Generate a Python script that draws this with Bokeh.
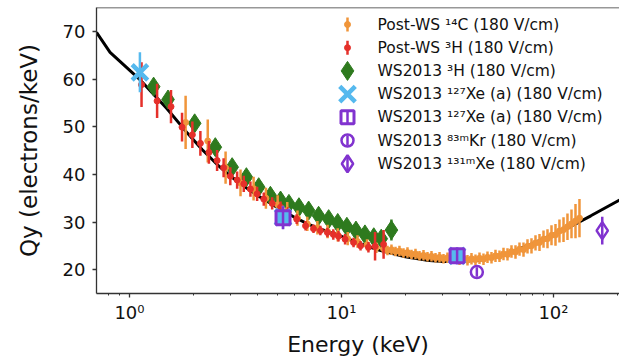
import numpy as np
from bokeh.plotting import figure
from bokeh.models import FixedTicker, Range1d, LinearScale, Span, CustomJSTickFormatter
from bokeh.embed import file_html
from bokeh.resources import INLINE
from bokeh.core.properties import value

# ---------------- data ----------------
# model curve
curve_E = [0.699, 0.81, 1.13, 1.5, 1.88, 2.2, 2.6, 3.0, 3.5, 4.0, 5.0, 6.0, 7.0, 8.0,
           10.0, 12.0, 15.0, 20.0, 25.0, 30.0, 35.0, 45.0, 60.0, 80.0, 100.0, 120.0,
           150.0, 205.0]
curve_Q = [69.8, 65.6, 59.7, 53.8, 48.6, 45.2, 42.0, 39.6, 37.4, 35.6, 33.0, 31.0, 29.5,
           28.5, 27.0, 25.6, 24.1, 22.7, 22.0, 21.7, 21.7, 22.0, 23.3, 25.5, 27.4, 29.0,
           31.3, 34.6]

# Post-WS 14C
c14_E = [1.84, 2.34, 2.84, 3.34, 3.85, 4.40, 5.00, 5.55, 6.20, 6.90, 7.70, 8.60, 9.60,
         10.7, 11.9, 13.2, 14.6,
         15.78, 16.48, 17.21, 17.98, 18.77, 19.61, 20.48, 21.39, 22.34, 23.33, 24.37,
         25.45, 26.58, 27.76, 29.00, 30.28, 31.62, 33.03, 34.49, 36.03, 37.63, 39.30,
         41.04, 42.86, 44.77, 46.75, 48.83, 51.00, 53.26, 55.63, 58.10, 60.68, 63.37,
         66.19, 69.13, 72.20, 75.40, 78.75, 82.25, 85.90, 89.72, 93.70, 97.86, 102.2,
         106.7, 111.5, 116.4, 121.6, 127.0, 132.6]
c14_Q = [50.9, 47.0, 41.4, 38.2, 37.0, 35.0, 33.6, 32.4, 30.8, 29.6, 28.8, 28.0, 27.3,
         26.5, 25.9, 25.2, 24.6,
         24.4, 24.0, 24.2, 23.8, 23.9, 23.5, 23.6, 23.2, 23.3, 22.9, 23.0,
         22.7, 22.8, 22.5, 22.6, 22.3, 22.5, 22.2, 22.4, 22.1, 22.4, 22.0,
         22.3, 22.1, 22.4, 22.2, 22.6, 22.5, 22.9, 22.8, 23.3, 23.2, 23.8,
         23.7, 24.3, 24.2, 24.9, 25.0, 25.6, 25.7, 26.4, 26.5, 27.2, 27.3,
         28.1, 28.4, 29.0, 29.6, 30.2, 30.8]
c14_err = [5.6, 4.5, 3.4, 2.8, 2.5, 2.2, 2.0, 1.8, 1.6, 1.5, 1.4, 1.4, 1.4,
           1.4, 1.3, 1.2, 1.1,
           1.0, 1.0, 1.1, 1.0, 1.1, 1.0, 1.1, 1.0, 1.1, 1.0, 1.1,
           1.0, 1.1, 1.0, 1.1, 1.0, 1.1, 1.0, 1.1, 1.1, 1.2, 1.1,
           1.2, 1.1, 1.2, 1.2, 1.2, 1.2, 1.3, 1.2, 1.3, 1.3, 1.3,
           1.4, 1.4, 1.5, 1.5, 1.6, 1.6, 1.8, 1.8, 2.0, 2.1, 2.3,
           2.4, 2.6, 2.8, 3.0, 3.6, 4.0]

# Post-WS 3H
h3p_E = [1.14, 1.35, 1.57, 1.77, 1.98, 2.16, 2.37, 2.59, 2.78, 2.99, 3.22, 3.46, 3.72,
         4.00, 4.30, 4.71, 5.16, 5.60, 6.15, 6.77, 7.38, 7.95, 8.58, 9.15, 9.68, 10.4,
         11.4, 12.3, 13.4, 14.4, 15.8]
h3p_Q = [58.8, 55.4, 54.2, 49.9, 48.3, 46.5, 44.6, 42.9, 41.4, 39.6, 38.8, 38.0, 36.9,
         35.9, 34.8, 33.9, 33.1, 32.0, 30.6, 29.2, 28.6, 28.2, 27.8, 27.4, 27.0, 26.4,
         25.7, 25.0, 24.7, 24.9, 25.3]
h3p_err = [4.7, 3.6, 3.5, 3.0, 2.8, 2.6, 2.4, 2.2, 2.0, 1.9, 1.8, 1.7, 1.6,
           1.5, 1.4, 1.3, 1.2, 1.1, 1.0, 1.0, 0.9, 1.0, 1.0, 1.1, 1.1, 1.1,
           1.0, 1.0, 1.1, 3.0, 3.0]

# WS2013 3H
h3w_E = [1.30, 1.52, 2.03, 2.54, 3.05, 3.56, 4.07, 4.62, 5.16, 5.65, 6.3, 7.0, 7.8,
         8.7, 9.6, 10.6, 11.7, 12.9, 14.2, 15.4, 17.2]
h3w_Q = [58.4, 55.7, 50.7, 45.7, 41.5, 39.4, 37.3, 35.5, 34.5, 33.8, 33.1, 32.4, 31.3,
         30.6, 29.8, 29.0, 28.2, 27.4, 26.8, 26.5, 28.3]
h3w_err = [0.6, 0.6, 0.6, 0.6, 0.5, 0.5, 0.5, 0.5, 0.5, 0.5, 0.5, 0.5, 0.5,
           0.5, 0.5, 0.5, 0.5, 0.5, 0.6, 0.8, 2.2]

# WS2013 127Xe (a) - crosses and squares
xe_x_E = [1.12, 5.30, 35.1]
xe_x_Q = [61.4, 31.0, 22.9]
xe_x_err = [4.2, 2.4, 1.75]
xe_s_E = [5.30, 35.1]
xe_s_Q = [30.9, 22.9]
xe_s_err = [2.4, 1.75]

# WS2013 83mKr
kr_E = [43.5]
kr_Q = [19.5]
kr_err = [1.0]

# WS2013 131mXe
xe131_E = [169.8]
xe131_Q = [28.2]
xe131_err = [2.9]

LEGEND_LABELS = ["Post-WS ¹⁴C (180 V/cm)", "Post-WS ³H (180 V/cm)",
                 "WS2013 ³H (180 V/cm)", "WS2013 ¹²⁷Xe (a) (180 V/cm)",
                 "WS2013 ¹²⁷Xe (a) (180 V/cm)", "WS2013 ⁸³ᵐKr (180 V/cm)",
                 "WS2013 ¹³¹ᵐXe (180 V/cm)"]

XTICKS = [1, 10, 100]
XTICK_LABELS = ["10⁰", "10¹", "10²"]
XMINOR = [0.8, 0.9, 2, 3, 4, 5, 6, 7, 8, 9, 20, 30, 40, 50, 60, 70, 80, 90, 200]
YTICKS = [20, 30, 40, 50, 60, 70]
X_MIN, X_MAX = 0.699, 204.8
Y_MIN, Y_MAX = 15, 75

# ---------------- style ----------------
ORANGE = "#f0953a"
RED = "#e5302a"
GREEN = "#2e7a1e"
LBLUE = "#56b9ee"
PURPLE = "#8133cf"
AXC = "#333333"
FONT = "DejaVu Sans"

W, H = 619, 359
BL, BT, BB = 96, 7, 66
FW, FH = W - BL, H - BB - BT

p = figure(width=W, height=H, x_axis_type="log", x_range=Range1d(X_MIN, X_MAX),
           y_range=Range1d(Y_MIN, Y_MAX), output_backend="svg", toolbar_location=None,
           min_border_left=BL, min_border_right=0, min_border_top=BT, min_border_bottom=BB)
p.xgrid.visible = False
p.ygrid.visible = False
p.outline_line_color = None
p.background_fill_color = "white"
p.border_fill_color = "white"

# frame-pixel coordinate system for the legend
p.extra_x_ranges = {"px": Range1d(0, FW)}
p.extra_y_ranges = {"px": Range1d(FH, 0)}
p.extra_x_scales = {"px": LinearScale()}
p.extra_y_scales = {"px": LinearScale()}

def arr(a):
    return np.asarray(a, dtype=float)

# model curve
p.line(curve_E, curve_Q, line_color="black", line_width=3)

# WS2013 3H (green diamonds)
E, Q, e = arr(h3w_E), arr(h3w_Q), arr(h3w_err)
p.segment(E, Q - e, E, Q + e, line_color=GREEN, line_width=2.5)
p.scatter(E, Q, marker="diamond", size=19, fill_color=GREEN, line_color=GREEN)

# Post-WS 14C
E, Q, e = arr(c14_E), arr(c14_Q), arr(c14_err)
p.segment(E, Q - e, E, Q + e, line_color=ORANGE, line_width=2.5)
p.scatter(E, Q, marker="circle", size=6, fill_color=ORANGE, line_color=ORANGE)

# Post-WS 3H
E, Q, e = arr(h3p_E), arr(h3p_Q), arr(h3p_err)
p.segment(E, Q - e, E, Q + e, line_color=RED, line_width=2.5)
p.scatter(E, Q, marker="circle", size=6, fill_color=RED, line_color=RED)

# 127Xe crosses
E, Q, e = arr(xe_x_E), arr(xe_x_Q), arr(xe_x_err)
p.segment(E, Q - e, E, Q + e, line_color=LBLUE, line_width=2.5)
p.scatter(E, Q, marker="x", size=22, line_color=LBLUE, line_width=4.5)

# 127Xe squares
E, Q, e = arr(xe_s_E), arr(xe_s_Q), arr(xe_s_err)
p.scatter(E, Q, marker="square", size=12, fill_color=LBLUE, line_color=None)
p.segment(E, Q - e, E, Q + e, line_color=PURPLE, line_width=2.5)
p.scatter(E, Q, marker="square", size=14, fill_color=None, line_color=PURPLE, line_width=3)

# 83mKr
E, Q, e = arr(kr_E), arr(kr_Q), arr(kr_err)
p.segment(E, Q - e, E, Q + e, line_color=PURPLE, line_width=2.5)
p.scatter(E, Q, marker="circle", size=12, fill_color=None, line_color=PURPLE, line_width=2.5)

# 131mXe
E, Q, e = arr(xe131_E), arr(xe131_Q), arr(xe131_err)
p.segment(E, Q - e, E, Q + e, line_color=PURPLE, line_width=2.5)
p.scatter(E, Q, marker="diamond", size=17, fill_color=None, line_color=PURPLE, line_width=2.5)

# top frame line
p.add_layout(Span(location=Y_MAX, dimension="width", line_color=AXC, line_width=1.3))

# ---------------- legend (drawn in frame pixels) ----------------
LX_MARK, LX_TEXT, LY0, LDY = 251, 281, 17, 23.2
ly = [LY0 + i * LDY for i in range(len(LEGEND_LABELS))]
kw = dict(x_range_name="px", y_range_name="px")

# row 0, 1: dot + vertical bar
for i, col in ((0, ORANGE), (1, RED)):
    p.segment([LX_MARK], [ly[i] - 7], [LX_MARK], [ly[i] + 7], line_color=col, line_width=2.5, **kw)
    p.scatter([LX_MARK], [ly[i]], marker="circle", size=6, fill_color=col, line_color=col, **kw)
p.scatter([LX_MARK], [ly[2]], marker="diamond", size=19, fill_color=GREEN, line_color=GREEN, **kw)
p.scatter([LX_MARK], [ly[3]], marker="x", size=22, line_color=LBLUE, line_width=4.5, **kw)
p.segment([LX_MARK], [ly[4] - 6], [LX_MARK], [ly[4] + 6], line_color=PURPLE, line_width=2.5, **kw)
p.scatter([LX_MARK], [ly[4]], marker="square", size=13, fill_color=None, line_color=PURPLE, line_width=3, **kw)
p.segment([LX_MARK], [ly[5] - 5], [LX_MARK], [ly[5] + 5], line_color=PURPLE, line_width=2.5, **kw)
p.scatter([LX_MARK], [ly[5]], marker="circle", size=12, fill_color=None, line_color=PURPLE, line_width=2.5, **kw)
p.segment([LX_MARK], [ly[6] - 8], [LX_MARK], [ly[6] + 8], line_color=PURPLE, line_width=2.5, **kw)
p.scatter([LX_MARK], [ly[6]], marker="diamond", size=17, fill_color=None, line_color=PURPLE, line_width=2.5, **kw)

p.text(x=[LX_TEXT] * len(LEGEND_LABELS), y=ly, text=LEGEND_LABELS,
       text_font=value(FONT), text_font_size=value("15.5px"), text_color="#111111",
       text_align="left", text_baseline="middle", **kw)

# ---------------- axes ----------------
p.xaxis.ticker = FixedTicker(ticks=XTICKS, minor_ticks=XMINOR)
p.xaxis.formatter = CustomJSTickFormatter(args=dict(t=XTICKS, l=XTICK_LABELS), code="""
    const i = t.indexOf(tick);
    return i >= 0 ? l[i] : "";
""")
p.yaxis.ticker = FixedTicker(ticks=YTICKS)

for ax in (p.xaxis[0], p.yaxis[0]):
    ax.axis_line_color = AXC
    ax.axis_line_width = 1.3
    ax.major_tick_line_color = AXC
    ax.major_tick_line_width = 1.3
    ax.minor_tick_line_color = AXC
    ax.minor_tick_line_width = 1.0
    ax.major_tick_out = 4
    ax.major_tick_in = 0
    ax.minor_tick_out = 2
    ax.minor_tick_in = 0
    ax.major_label_text_font = FONT
    ax.major_label_text_font_size = "18px"
    ax.major_label_text_color = "#111111"
    ax.axis_label_text_font = FONT
    ax.axis_label_text_font_style = "normal"
    ax.axis_label_text_color = "#111111"

p.xaxis.axis_label = "Energy (keV)"
p.xaxis.axis_label_text_font_size = "22px"
p.xaxis.major_label_standoff = 4
p.xaxis.axis_label_standoff = 6
p.yaxis.axis_label = "Qy (electrons/keV)"
p.yaxis.axis_label_text_font_size = "23px"
p.yaxis.major_label_standoff = 7
p.yaxis.axis_label_standoff = 18

open("out.html", "w").write(file_html(p, INLINE))
